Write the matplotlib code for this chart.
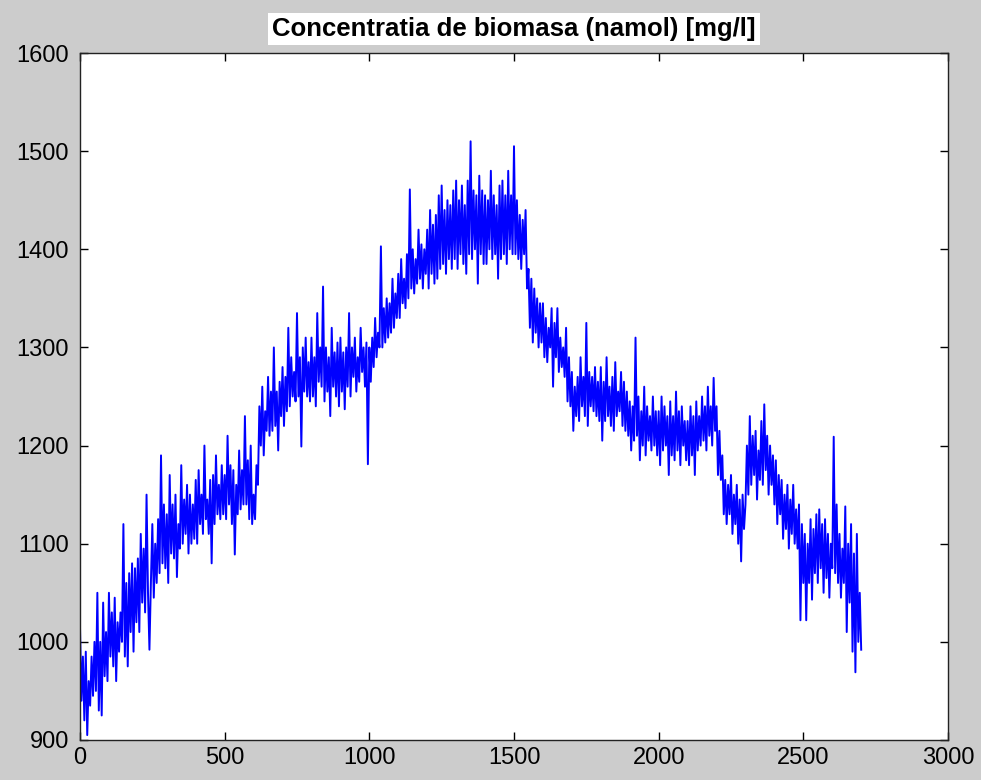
import numpy as np
import matplotlib.pyplot as plt

# samples, every 5 units of time (0..2700)
t = np.arange(0, 2701, 5)
biomasa = [
    1015, 940, 985, 920, 990, 905, 960, 935, 985, 945, 1000, 950, 1050, 930, 1000, 925, 1040, 965, 1010, 960,
    1050, 985, 1030, 975, 1045, 960, 1020, 990, 1030, 1000, 1120, 985, 1060, 975, 1070, 1010, 1080, 990, 1075, 1020,
    1085, 1010, 1110, 1040, 1095, 1030, 1150, 1050, 992, 1060, 1120, 1045, 1100, 1060, 1125, 1070, 1190, 1080, 1140, 1075,
    1130, 1060, 1170, 1090, 1140, 1085, 1150, 1066, 1120, 1095, 1180, 1100, 1145, 1110, 1160, 1090, 1150, 1100, 1140, 1105,
    1165, 1100, 1175, 1120, 1150, 1110, 1200, 1125, 1145, 1110, 1165, 1080, 1170, 1120, 1190, 1130, 1160, 1125, 1180, 1130,
    1170, 1125, 1210, 1140, 1180, 1120, 1175, 1089, 1160, 1130, 1195, 1135, 1175, 1140, 1230, 1140, 1185, 1125, 1200, 1120,
    1150, 1125, 1180, 1160, 1240, 1200, 1260, 1190, 1235, 1215, 1270, 1210, 1255, 1215, 1300, 1220, 1255, 1195, 1265, 1230,
    1280, 1220, 1270, 1235, 1320, 1240, 1290, 1250, 1275, 1245, 1335, 1250, 1290, 1199, 1300, 1255, 1310, 1250, 1285, 1245,
    1310, 1250, 1290, 1240, 1335, 1265, 1300, 1260, 1362, 1245, 1300, 1255, 1290, 1230, 1320, 1260, 1295, 1250, 1305, 1240,
    1310, 1255, 1295, 1237, 1300, 1260, 1335, 1250, 1300, 1270, 1310, 1255, 1290, 1265, 1320, 1275, 1300, 1260, 1305, 1181,
    1300, 1265, 1310, 1280, 1330, 1290, 1315, 1300, 1403, 1300, 1340, 1305, 1350, 1310, 1345, 1315, 1370, 1320, 1355, 1330,
    1375, 1330, 1390, 1345, 1370, 1340, 1395, 1350, 1461, 1360, 1400, 1355, 1390, 1365, 1420, 1370, 1405, 1360, 1400, 1375,
    1420, 1360, 1440, 1375, 1425, 1365, 1435, 1370, 1455, 1380, 1465, 1385, 1440, 1375, 1450, 1390, 1445, 1380, 1460, 1390,
    1470, 1380, 1450, 1395, 1465, 1385, 1445, 1375, 1470, 1395, 1510, 1390, 1460, 1400, 1455, 1365, 1475, 1395, 1460, 1385,
    1455, 1385, 1450, 1400, 1480, 1390, 1455, 1395, 1445, 1370, 1465, 1390, 1470, 1395, 1455, 1385, 1480, 1400, 1455, 1395,
    1505, 1395, 1450, 1390, 1435, 1380, 1430, 1395, 1440, 1360, 1380, 1320, 1370, 1305, 1360, 1315, 1350, 1300, 1345, 1305,
    1345, 1290, 1330, 1285, 1320, 1300, 1340, 1260, 1325, 1290, 1340, 1275, 1310, 1280, 1300, 1270, 1320, 1245, 1290, 1240,
    1275, 1215, 1260, 1230, 1270, 1225, 1290, 1240, 1270, 1230, 1325, 1220, 1275, 1240, 1270, 1235, 1280, 1230, 1265, 1225,
    1280, 1205, 1265, 1225, 1290, 1230, 1260, 1220, 1270, 1215, 1285, 1230, 1255, 1235, 1275, 1220, 1265, 1215, 1255, 1210,
    1245, 1195, 1240, 1205, 1310, 1210, 1250, 1185, 1235, 1200, 1260, 1190, 1240, 1205, 1230, 1195, 1250, 1200, 1235, 1190,
    1235, 1180, 1250, 1195, 1240, 1200, 1230, 1170, 1245, 1190, 1230, 1185, 1255, 1195, 1235, 1180, 1240, 1200, 1225, 1185,
    1225, 1180, 1240, 1190, 1230, 1170, 1245, 1195, 1230, 1200, 1250, 1205, 1240, 1195, 1260, 1210, 1240, 1200, 1269, 1215,
    1240, 1170, 1215, 1165, 1190, 1130, 1165, 1120, 1160, 1130, 1170, 1110, 1150, 1120, 1160, 1100, 1145, 1082, 1150, 1115,
    1140, 1200, 1150, 1230, 1160, 1210, 1170, 1215, 1145, 1195, 1165, 1225, 1160, 1242, 1175, 1210, 1150, 1200, 1160, 1190,
    1140, 1185, 1120, 1170, 1130, 1165, 1105, 1150, 1115, 1160, 1095, 1145, 1110, 1160, 1100, 1135, 1095, 1140, 1022, 1120,
    1060, 1110, 1022, 1100, 1060, 1125, 1043, 1115, 1070, 1130, 1060, 1135, 1075, 1120, 1050, 1125, 1065, 1110, 1045, 1100,
    1075, 1209, 1070, 1140, 1060, 1110, 1045, 1095, 1060, 1138, 1010, 1100, 1040, 1120, 990, 1090, 969, 1110, 1000, 1050,
    992,
]
xticks = [0, 500, 1000, 1500, 2000, 2500, 3000]
yticks = [900, 1000, 1100, 1200, 1300, 1400, 1500, 1600]

plt.rcParams['font.family'] = ['Liberation Sans', 'DejaVu Sans']

fig = plt.figure(figsize=(9.81, 7.80), dpi=100, facecolor='#cccccc')
ax = fig.add_axes([80/981, 40/780, 868/981, 687/780])
ax.plot(t, biomasa, color='#0000ff', linewidth=1.4)

ax.set_xlim(0, 3000)
ax.set_ylim(900, 1600)
ax.set_xticks(xticks)
ax.set_yticks(yticks)
ax.tick_params(direction='in', length=6, width=1, top=True, right=True,
               labelsize=17, colors='#000000')
ax.tick_params(axis='y', pad=8)
ax.tick_params(axis='x', pad=5)
for s in ax.spines.values():
    s.set_linewidth(1)
    s.set_color('#222222')

ax.set_title('Concentratia de biomasa (namol) [mg/l]', fontsize=18.5,
             fontweight='bold', pad=12,
             bbox=dict(facecolor='white', edgecolor='none', pad=3))

fig.savefig('out.png', dpi=100, facecolor=fig.get_facecolor())
